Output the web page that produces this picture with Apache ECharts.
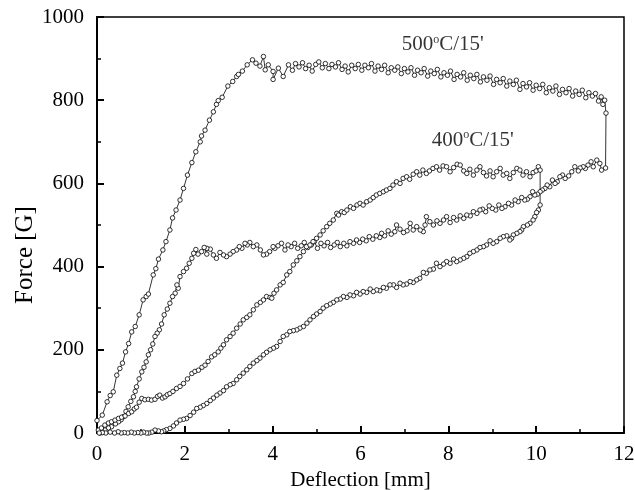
<!DOCTYPE html>
<html>
<head>
<meta charset="utf-8">
<script src="https://cdn.jsdelivr.net/npm/echarts@6/dist/echarts.min.js"></script>
<style>html,body{margin:0;padding:0;background:#fff;}#c{width:635px;height:490px;}</style>
</head>
<body>
<div id="c"></div>
<script>
// ---------- DATA ----------
// 500°C/15' : loading branch
const load500X = [0.00,0.12,0.23,0.30,0.37,0.45,0.52,0.58,0.65,0.72,0.79,0.87,0.96,1.05,1.12,1.17,1.28,1.34,1.40,1.50,1.57,1.66,1.72,1.80,1.89,1.97,2.06,2.16,2.25,2.35,2.38,2.46,2.56,2.65,2.72,2.76,2.85,2.98,3.09,3.18,3.22,3.31,3.42,3.54,3.62,3.71,3.79,3.83,3.90,4.01,4.01,4.13,4.24,4.36];
const load500F = [30,43,75,90,99,139,155,168,195,215,243,256,284,320,328,334,380,395,418,440,460,488,517,536,560,588,620,650,676,700,714,728,752,772,790,799,807,834,845,857,862,870,885,897,889,882,905,873,885,869,850,877,857,885];
// 500°C/15' : plateau branch
const plat500X = [4.45,4.52,4.60,4.68,4.75,4.83,4.90,4.98,5.05,5.13,5.20,5.28,5.35,5.43,5.50,5.58,5.65,5.72,5.80,5.88,5.95,6.03,6.10,6.18,6.25,6.33,6.40,6.48,6.55,6.63,6.70,6.78,6.85,6.93,7.00,7.08,7.15,7.23,7.30,7.38,7.45,7.53,7.60,7.68,7.75,7.83,7.90,7.98,8.05,8.13,8.20,8.28,8.35,8.43,8.50,8.58,8.65,8.73,8.80,8.88,8.95,9.03,9.10,9.18,9.25,9.33,9.40,9.48,9.55,9.63,9.70,9.78,9.85,9.93,10.00,10.08,10.15,10.23,10.30,10.38,10.45,10.53,10.60,10.68,10.75,10.83,10.90,10.98,11.05,11.13,11.20,11.28,11.35,11.42,11.48,11.52,11.56,11.59];
const plat500F = [872,888,880,890,876,884,870,886,892,878,888,876,886,880,890,874,882,868,884,876,886,872,884,878,888,870,882,874,884,866,878,872,880,864,876,868,878,860,872,866,876,858,870,864,874,856,866,860,870,850,862,856,866,848,860,852,862,844,856,848,858,838,850,842,852,834,846,838,848,826,840,832,842,824,836,828,838,818,830,822,834,814,826,818,828,810,822,814,824,806,818,810,816,798,808,790,800,769];
// 500°C/15' : lower branch (drawn back from the right end)
const low500X = [11.58,11.49,11.45,11.38,11.30,11.25,11.18,11.12,11.07,11.00,10.96,10.88,10.81,10.74,10.66,10.60,10.54,10.48,10.43,10.37,10.31,10.25,10.20,10.14,10.09,10.03,9.97,9.92,9.86,9.80,9.74,9.67,9.59,9.52,9.44,9.37,9.29,9.22,9.15,9.08,9.00,8.93,8.85,8.78,8.72,8.65,8.57,8.50,8.42,8.35,8.27,8.19,8.12,8.04,7.96,7.89,7.81,7.74,7.66,7.58,7.50,7.47,7.43,7.36,7.28,7.20,7.13,7.06,6.98,6.90,6.82,6.78,6.70,6.63,6.55,6.48,6.44,6.36,6.28,6.20,6.13,6.05,5.98,5.91,5.84,5.76,5.69,5.62,5.54,5.47,5.40,5.32,5.25,5.17,5.10,5.02,4.95,4.88,4.80,4.72,4.65,4.57,4.50,4.42,4.35,4.28,4.20,4.12,4.05,4.01,3.93,3.86,3.79,3.72,3.64,3.56,3.48,3.42,3.37,3.30,3.24,3.18,3.10,3.03,2.95,2.88,2.80,2.72,2.65,2.58,2.50,2.50,2.44,2.38,2.30,2.25,2.20,2.16,2.10,2.04,1.97,1.89,1.85,1.82,1.78,1.72,1.66,1.60,1.53,1.47,1.42,1.37,1.32,1.27,1.22,1.17,1.12,1.07,1.02,0.96,0.90,0.87,0.83,0.77,0.71,0.66,0.60,0.55,0.49,0.42,0.33,0.26,0.18,0.12,0.07];
const low500F = [637,632,648,656,640,652,644,636,640,637,630,640,628,618,612,620,616,604,600,608,592,596,588,584,580,574,572,580,568,562,560,566,556,560,548,552,544,540,548,536,540,546,532,538,536,528,532,522,524,516,522,512,518,506,520,512,504,510,500,508,520,500,484,488,496,488,504,486,482,490,500,484,478,486,474,480,470,474,466,472,462,466,458,464,456,460,450,456,448,458,452,446,458,450,456,444,460,452,446,458,450,444,456,448,452,440,456,450,444,448,436,430,428,440,452,448,458,452,456,444,448,440,436,430,424,428,434,420,428,442,444,430,446,436,430,441,432,420,408,396,388,376,348,356,336,328,312,298,284,262,248,240,232,214,200,188,171,158,147,130,111,100,87,76,63,52,39,32,27,22,15,12,7,3,0];
// 400°C/15' : upper branch
const up400X = [0.03,0.10,0.18,0.26,0.33,0.41,0.49,0.56,0.64,0.72,0.79,0.85,0.90,0.96,1.02,1.09,1.17,1.24,1.32,1.38,1.43,1.49,1.55,1.60,1.66,1.73,1.81,1.89,1.97,2.06,2.16,2.23,2.31,2.39,2.46,2.53,2.61,2.68,2.76,2.82,2.88,2.95,3.03,3.10,3.18,3.26,3.33,3.41,3.48,3.56,3.64,3.72,3.79,3.86,3.94,3.98,4.03,4.09,4.17,4.24,4.32,4.39,4.47,4.55,4.62,4.70,4.77,4.85,4.92,5.00,5.08,5.15,5.23,5.30,5.38,5.46,5.50,5.57,5.63,5.69,5.77,5.84,5.92,5.99,6.06,6.14,6.22,6.29,6.36,6.44,6.52,6.59,6.67,6.74,6.82,6.90,6.97,7.05,7.12,7.20,7.28,7.35,7.42,7.50,7.57,7.65,7.73,7.80,7.88,7.96,8.04,8.12,8.20,8.27,8.35,8.42,8.49,8.57,8.65,8.72,8.80,8.87,8.95,9.02,9.10,9.18,9.25,9.33,9.40,9.48,9.56,9.63,9.70,9.78,9.86,9.93,10.00,10.05,10.09];
const up400F = [7,12,19,24,27,31,35,38,41,47,51,58,62,74,83,80,81,79,81,88,91,84,87,92,95,100,107,112,119,130,143,148,151,158,163,172,183,188,195,204,212,224,232,240,252,262,272,278,284,296,308,314,320,328,326,324,336,344,356,362,380,388,404,414,424,436,448,452,460,468,476,486,496,504,512,528,524,532,530,536,544,540,548,552,548,556,560,566,572,576,580,584,588,596,604,600,612,616,610,622,628,620,632,624,630,636,640,632,642,640,628,638,646,644,630,624,634,620,632,640,626,618,630,616,628,636,620,624,612,626,636,632,620,628,616,626,630,640,632];
// 400°C/15' : lower branch (drawn back from the right end)
const low400X = [10.09,10.05,10.01,9.97,9.93,9.86,9.80,9.71,9.67,9.63,9.56,9.48,9.44,9.40,9.33,9.25,9.18,9.10,9.02,8.95,8.87,8.80,8.72,8.65,8.57,8.49,8.42,8.35,8.27,8.19,8.12,8.04,7.96,7.89,7.81,7.73,7.66,7.58,7.50,7.43,7.35,7.28,7.20,7.13,7.05,6.97,6.90,6.82,6.75,6.67,6.59,6.52,6.44,6.37,6.29,6.22,6.14,6.06,5.99,5.91,5.84,5.76,5.69,5.61,5.54,5.46,5.38,5.31,5.23,5.15,5.08,5.00,4.93,4.85,4.78,4.70,4.62,4.55,4.47,4.39,4.32,4.24,4.17,4.09,4.02,3.94,3.86,3.79,3.71,3.64,3.56,3.48,3.41,3.33,3.25,3.18,3.10,3.03,2.95,2.88,2.80,2.73,2.65,2.58,2.50,2.42,2.35,2.27,2.20,2.12,2.04,1.97,1.89,1.81,1.74,1.66,1.58,1.52,1.47,1.40,1.32,1.25,1.18,1.13,1.06,1.00,0.93,0.85,0.78,0.70,0.62,0.55,0.48,0.40,0.30,0.20,0.12,0.05];
const low400F = [548,536,530,520,512,504,500,496,488,484,480,476,468,464,474,472,468,460,456,462,452,448,446,440,436,432,424,420,416,412,418,408,412,406,400,408,394,392,384,386,372,368,362,364,358,356,360,350,356,356,348,350,342,344,340,346,338,340,334,338,330,332,326,328,322,320,314,310,306,300,292,286,280,272,264,256,252,248,246,244,236,232,220,208,204,200,194,188,180,174,168,160,152,144,136,128,119,116,111,102,96,91,84,78,71,66,62,59,50,42,35,33,31,24,17,11,8,5,3,5,7,2,0,0,2,0,1,0,2,0,1,0,3,0,2,0,1,0];
// annotation texts (data coordinates of their left-middle anchor)
const noteTemps = ['500', '400'];
const noteX = [6.94, 7.62];
const noteF = [934, 704];
// axes
const xMin = 0, xMax = 12, xStep = 2;
const yMin = 0, yMax = 1000, yStep = 200;
const xTitle = 'Deflection [mm]';
const yTitle = 'Force [G]';

// ---------- CHART ----------
function zip(xs, ys) { return xs.map((x, i) => [x, ys[i]]); }
const curve500 = zip(load500X.concat(plat500X, low500X), load500F.concat(plat500F, low500F));
const curve400 = zip(up400X.concat(low400X), up400F.concat(low400F));

const serif = '"Liberation Serif","Times New Roman",serif';
const chart = echarts.init(document.getElementById('c'), null, {renderer: 'canvas'});

const lineSeries = (name, data) => ({
  name, type: 'line', data,
  symbol: 'circle', symbolSize: 4.5, showSymbol: true,
  lineStyle: {color: '#000', width: 0.8},
  itemStyle: {color: '#fff', borderColor: '#000', borderWidth: 0.8},
  emphasis: {disabled: true},
  clip: false,
  z: 2
});

chart.setOption({
  animation: false,
  backgroundColor: '#fff',
  grid: {left: 97, right: 11, top: 17, bottom: 57, show: true, borderColor: '#000', borderWidth: 1.5,
         backgroundColor: 'transparent', containLabel: false, outerBoundsMode: 'none'},
  xAxis: {
    type: 'value', min: xMin, max: xMax, interval: xStep,
    name: xTitle, nameLocation: 'middle', nameGap: 35,
    nameTextStyle: {fontFamily: serif, fontSize: 21, color: '#000'},
    axisLine: {show: true, onZero: false, lineStyle: {color: '#000', width: 2}},
    axisTick: {show: true, inside: true, length: 7, lineStyle: {color: '#000', width: 2}},
    minorTick: {show: true, splitNumber: 2, length: 4, lineStyle: {color: '#000', width: 1.5}},
    axisLabel: {margin: 11, fontFamily: serif, fontSize: 21, color: '#000', formatter: v => String(v)},
    splitLine: {show: false}
  },
  yAxis: {
    type: 'value', min: yMin, max: yMax, interval: yStep,
    axisLine: {show: true, onZero: false, lineStyle: {color: '#000', width: 2}},
    axisTick: {show: true, inside: true, length: 7, lineStyle: {color: '#000', width: 2}},
    minorTick: {show: true, splitNumber: 2, length: 4, lineStyle: {color: '#000', width: 1.5}},
    axisLabel: {margin: 13, fontFamily: serif, fontSize: 21, color: '#000', formatter: v => String(v)},
    splitLine: {show: false}
  },
  series: [
    lineSeries('500', curve500),
    lineSeries('400', curve400),
    {
      type: 'scatter', symbolSize: 0, silent: true,
      data: noteTemps.map((t, i) => ({value: [noteX[i], noteF[i]], temp: t})),
      label: {
        show: true, position: 'right', distance: 0,
        formatter: p => '{a|' + p.data.temp + '}{s|o}{a|C/15\'}',
        rich: {
          a: {fontFamily: serif, fontSize: 21, lineHeight: 22, color: '#000'},
          s: {fontFamily: serif, fontSize: 12, lineHeight: 9, verticalAlign: 'top', color: '#000'}
        }
      }
    }
  ],
  graphic: [{
    type: 'text', x: 25, y: 255, rotation: Math.PI / 2,
    style: {text: yTitle, font: '25px ' + serif, fill: '#000', align: 'center', verticalAlign: 'middle'}
  }]
});
</script>
</body>
</html>
